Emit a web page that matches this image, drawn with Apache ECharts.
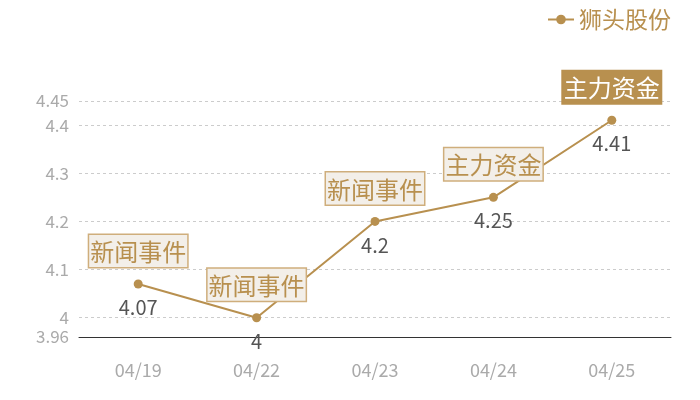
<!DOCTYPE html>
<html style="height: 100%">
<head>
  <meta charset="utf-8" />
  <title>狮头股份</title>
  <script src="https://cdn.jsdelivr.net/npm/echarts@6/dist/echarts.min.js"></script>
</head>
<body style="height: 100%; margin: 0; overflow: hidden">
  <div id="container" style="height: 400px; width: 700px"></div>
  <script>
    // 数据
    var dates = ["04/19", "04/22", "04/23", "04/24", "04/25"];
    var prices = [4.07, 4.0, 4.2, 4.25, 4.41];
    var events = ["新闻事件", "新闻事件", "新闻事件", "主力资金", "主力资金"];
    var seriesName = "狮头股份";
    var yMin = 3.96;
    var yMax = 4.45;

    var gold = "#b8904f";
    var font = "'Noto Sans CJK SC', 'Noto Sans', sans-serif";

    var dom = document.getElementById("container");
    var myChart = echarts.init(dom, null, { renderer: "canvas" });

    // 事件标签（最后一个高亮）
    var eventData = prices.map(function (v, i) {
      var last = i === prices.length - 1;
      return {
        value: v,
        label: {
          formatter: events[i],
          color: last ? "#fff" : gold,
          backgroundColor: last ? gold : "#f3efe9",
          borderColor: last ? gold : "#cfae7c",
        },
      };
    });

    var option = {
      textStyle: { fontFamily: font },
      legend: {
        right: 24,
        top: 3,
        data: [seriesName],
        itemWidth: 26,
        itemHeight: 12,
        itemGap: 6,
        textStyle: { color: gold, fontSize: 23, fontFamily: font },
      },
      grid: { left: 79, right: 29, top: 101, bottom: 63 },
      xAxis: {
        type: "category",
        data: dates,
        axisLine: { lineStyle: { color: "#333" } },
        axisTick: { show: false },
        axisLabel: { color: "#aaa", fontSize: 18, margin: 24, fontFamily: font },
      },
      yAxis: {
        type: "value",
        min: yMin,
        max: yMax,
        splitNumber: 5,
        axisLine: { show: false },
        axisTick: { show: false },
        axisLabel: { color: "#aaa", fontSize: 17, margin: 10, fontFamily: font },
        splitLine: { lineStyle: { color: "#ccc", type: [3, 3] } },
      },
      series: [
        {
          name: seriesName,
          type: "line",
          data: prices,
          symbol: "circle",
          symbolSize: 9,
          itemStyle: { color: gold },
          lineStyle: { color: gold, width: 2 },
          label: {
            show: true,
            position: "bottom",
            distance: 9,
            color: "#555",
            fontSize: 20,
            fontFamily: font,
          },
          z: 3,
        },
        {
          name: "events",
          type: "line",
          data: eventData,
          symbol: "circle",
          symbolSize: 2,
          showSymbol: true,
          itemStyle: { color: "rgba(0,0,0,0)" },
          lineStyle: { opacity: 0 },
          silent: true,
          label: {
            show: true,
            position: "top",
            distance: 16,
            fontSize: 24,
            fontFamily: font,
            borderWidth: 1.5,
            padding: [5, 1, 3, 1],
          },
          z: 4,
        },
      ],
    };
    myChart.setOption(option);
    window.addEventListener("resize", myChart.resize);
  </script>
</body>
</html>
